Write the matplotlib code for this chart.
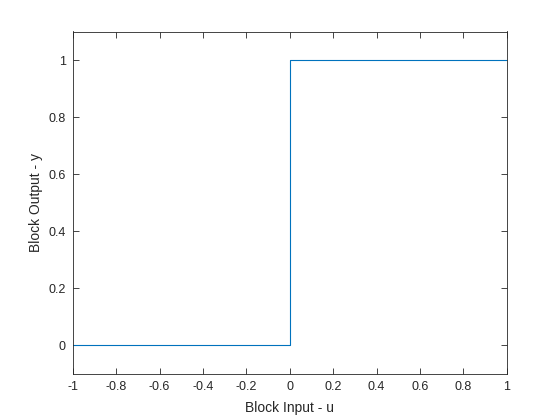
import matplotlib.pyplot as plt

# Step block: input u vs output y
u = [-1, 0, 0, 1]
y = [0, 0, 1, 1]

x_ticks = [-1, -0.8, -0.6, -0.4, -0.2, 0, 0.2, 0.4, 0.6, 0.8, 1]
y_ticks = [0, 0.2, 0.4, 0.6, 0.8, 1]

plt.rcParams["font.family"] = ["Liberation Sans", "DejaVu Sans"]

fig = plt.figure(figsize=(5.6, 4.2), dpi=100)
ax = fig.add_axes([0.13, 0.11, 0.775, 0.815])

ax.plot(u, y, color="#0072BD", lw=0.8)

ax.set_xlim(-1, 1)
ax.set_ylim(-0.1, 1.1)
ax.set_xticks(x_ticks)
ax.set_yticks(y_ticks)
ax.set_xticklabels([f"{v:g}" for v in x_ticks])
ax.set_yticklabels([f"{v:g}" for v in y_ticks])

ax.tick_params(direction="in", length=4, width=0.6, color="#262626",
               labelsize=9, labelcolor="#262626", top=True, right=True, pad=5)
for sp in ax.spines.values():
    sp.set_color("#262626")
    sp.set_linewidth(0.6)

ax.set_xlabel("Block Input - u", fontsize=10, color="#262626", labelpad=6)
ax.set_ylabel("Block Output - y", fontsize=10, color="#262626", labelpad=4)

fig.savefig("out.png", dpi=100)
